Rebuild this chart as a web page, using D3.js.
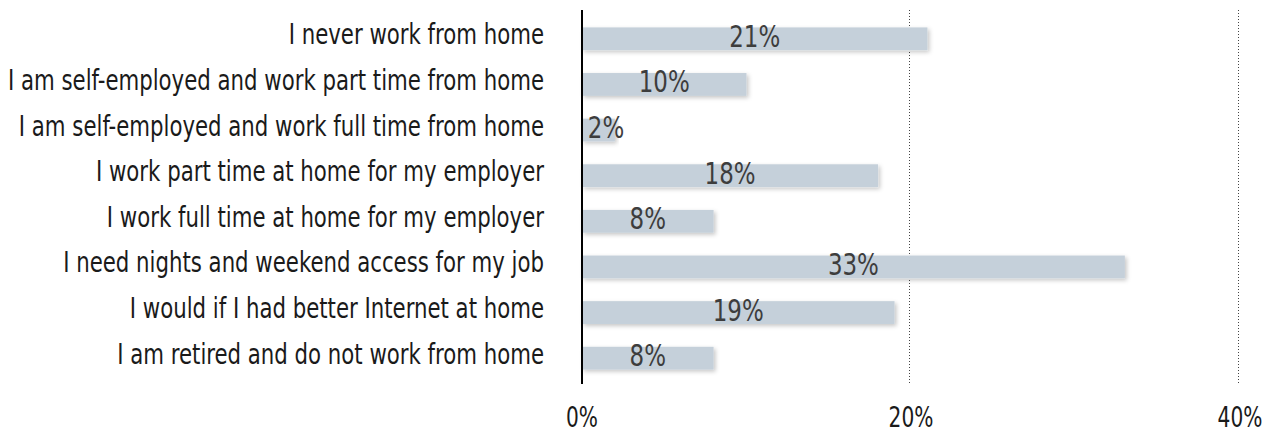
<!DOCTYPE html>
<html>
<head>
<meta charset="utf-8">
<script src="https://cdn.jsdelivr.net/npm/d3@7"></script>
<style>
  body { margin: 0; background: #fff; }
  svg text { font-family: "DejaVu Sans", sans-serif; font-stretch: condensed; }
</style>
</head>
<body>
<div id="chart"></div>
<script>
// answers, top to bottom
const categories = [
    "I never work from home",
    "I am self-employed and work part time from home",
    "I am self-employed and work full time from home",
    "I work part time at home for my employer",
    "I work full time at home for my employer",
    "I need nights and weekend access for my job",
    "I would if I had better Internet at home",
    "I am retired and do not work from home"
];
const values = [21, 10, 2, 18, 8, 33, 19, 8];
const ticks = [0, 20, 40];

const width = 1282;
const height = 433;

const svg = d3.select("#chart").append("svg")
    .attr("width", width)
    .attr("height", height);

// squeeze text horizontally so it looks like the narrow face in the picture
function squeeze(sel, k) {
    sel.each(function () {
        const w = this.getComputedTextLength();
        d3.select(this)
            .attr("textLength", w * k)
            .attr("lengthAdjust", "spacingAndGlyphs");
    });
}

// soft shadow under the bars
const f = svg.append("defs").append("filter")
    .attr("id", "shadow")
    .attr("x", "-5%").attr("y", "-40%")
    .attr("width", "115%").attr("height", "190%");
f.append("feDropShadow")
    .attr("dx", 2).attr("dy", 2)
    .attr("stdDeviation", 2)
    .attr("flood-color", "#000")
    .attr("flood-opacity", 0.22);

const x = d3.scaleLinear()
    .domain([0, 40])
    .range([582, 1240]);

const y = d3.scaleBand()
    .domain(categories)
    .range([16, 381])
    .paddingInner(0.5)
    .paddingOuter(0.25);

// dotted gridlines
svg.selectAll(".grid")
    .data(ticks.filter(t => t > 0))
    .enter()
    .append("line")
    .attr("class", "grid")
    .attr("x1", d => x(d) - 1.5).attr("x2", d => x(d) - 1.5)
    .attr("y1", 10).attr("y2", 384)
    .attr("stroke", "#444")
    .attr("stroke-width", 1)
    .attr("stroke-dasharray", "1,2");

// bars
svg.selectAll(".bar")
    .data(values)
    .enter()
    .append("rect")
    .attr("class", "bar")
    .attr("x", x(0))
    .attr("y", (d, i) => y(categories[i]))
    .attr("width", d => x(d) - x(0))
    .attr("height", y.bandwidth())
    .attr("fill", "#c5d0da")
    .attr("filter", "url(#shadow)");

// value labels, centred in the bar (or just right of the axis for tiny bars)
const vals = svg.selectAll(".val")
    .data(values)
    .enter()
    .append("text")
    .attr("class", "val")
    .attr("x", d => Math.max((x(0) + x(d)) / 2, x(0) + 24))
    .attr("y", (d, i) => y(categories[i]) + y.bandwidth() / 2 + 8)
    .attr("text-anchor", "middle")
    .attr("font-size", 31)
    .attr("fill", "#3d3d3d")
    .text(d => d + "%");
// "21%" is about 51px wide in the picture
squeeze(vals, 51 / vals.node().getComputedTextLength());

// category labels
const labels = svg.selectAll(".cat")
    .data(categories)
    .enter()
    .append("text")
    .attr("class", "cat")
    .attr("x", 544)
    .attr("y", d => y(d) + y.bandwidth() / 2 + 5.5)
    .attr("text-anchor", "end")
    .attr("font-size", 27.5)
    .attr("fill", "#1a1a1a")
    .text(d => d);

// fit the longest label to the width in the picture
let longest = 0;
labels.each(function () { longest = Math.max(longest, this.getComputedTextLength()); });
if (longest > 0) squeeze(labels, 536 / longest);

// axis line
svg.append("line")
    .attr("x1", x(0)).attr("x2", x(0))
    .attr("y1", 10).attr("y2", 384)
    .attr("stroke", "#000")
    .attr("stroke-width", 2);

// tick labels
const tickLabels = svg.selectAll(".tick-label")
    .data(ticks)
    .enter()
    .append("text")
    .attr("class", "tick-label")
    .attr("x", d => x(d))
    .attr("y", 427)
    .attr("text-anchor", "middle")
    .attr("font-size", 28.5)
    .attr("fill", "#1a1a1a")
    .text(d => d + "%");
// "0%" is about 32px wide in the picture
squeeze(tickLabels, 32 / tickLabels.node().getComputedTextLength());
</script>
</body>
</html>
